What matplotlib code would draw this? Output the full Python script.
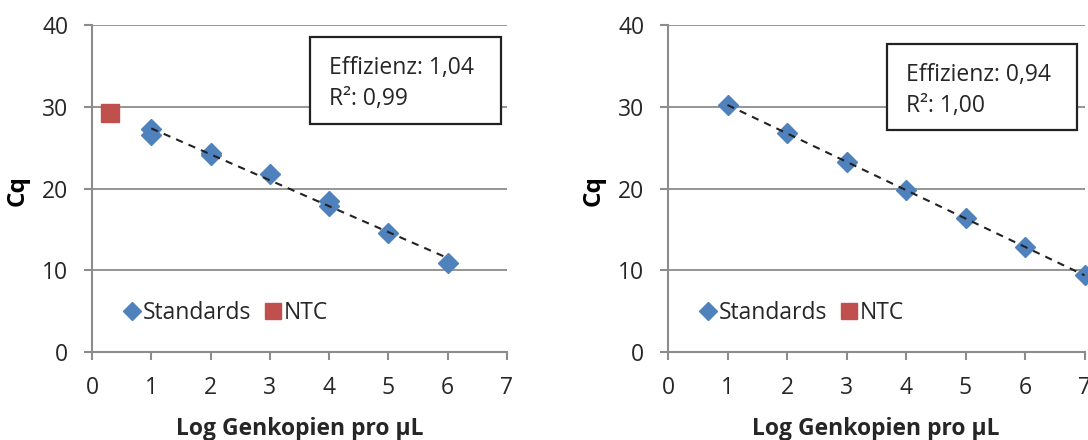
import matplotlib.pyplot as plt
import numpy as np

plt.rcParams['font.family'] = ['Open Sans', 'DejaVu Sans']

# left chart
x_left = [1, 1, 2, 2, 3, 4, 4, 5, 6]
cq_left = [27.3, 26.6, 24.4, 24.1, 21.8, 18.5, 17.8, 14.5, 10.9]
ntc_x_left = [0.3]
ntc_cq_left = [29.2]
eff_left = "1,04"
r2_left = "0,99"

# right chart
x_right = [1, 2, 3, 4, 5, 6, 7]
cq_right = [30.2, 26.8, 23.2, 19.8, 16.4, 12.8, 9.4]
ntc_x_right = []
ntc_cq_right = []
eff_right = "0,94"
r2_right = "1,00"

blue = '#4F81BD'
red = '#C0504D'
grey = '#8C8C8C'
txt = '#262626'
fs = 16.5

fig = plt.figure(figsize=(10.88, 4.4), dpi=100)
ax1 = fig.add_axes([92 / 1088, 88 / 440, 415 / 1088, 327 / 440])
ax2 = fig.add_axes([668 / 1088, 88 / 440, 416.5 / 1088, 327 / 440])


def draw(ax, xs, ys, nx, ny, eff, r2, box):
    ax.set_xlim(0, 7)
    ax.set_ylim(0, 40)
    ax.set_xticks(range(0, 8))
    ax.set_yticks(range(0, 41, 10))
    ax.grid(axis='y', color=grey, linewidth=1.3)
    ax.set_axisbelow(True)
    for s in ['top', 'right']:
        ax.spines[s].set_visible(False)
    for s in ['left', 'bottom']:
        ax.spines[s].set_color(grey)
        ax.spines[s].set_linewidth(1.5)
    ax.tick_params(colors=grey, labelcolor=txt, labelsize=fs, length=6, width=1.5)
    ax.tick_params(axis='y', pad=11)
    ax.tick_params(axis='x', pad=11)

    # trendline from the standards
    k, d = np.polyfit(xs, ys, 1)
    xt = np.array([min(xs), max(xs)])
    ax.plot(xt, k * xt + d, color='#222222', linestyle=(0, (3.5, 3)), linewidth=1.5,
            zorder=4, clip_on=False)

    ax.plot(xs, ys, 'D', color=blue, markersize=10, label='Standards', zorder=3,
            clip_on=False)
    ax.plot(nx, ny, 's', color=red, markersize=12.5, label='NTC', zorder=3, clip_on=False)

    ax.legend(loc='center left', bbox_to_anchor=(0.05, 0.12), ncol=2, frameon=False,
              fontsize=fs, handlelength=0.7, handletextpad=0.12, columnspacing=0.6,
              borderpad=0, labelcolor=txt, markerscale=0.9)

    ax.set_xlabel('Log Genkopien pro µL', fontsize=fs, fontweight='bold', color=txt)
    ax.xaxis.set_label_coords(0.5, -0.2)
    ax.set_ylabel('Cq', fontsize=fs + 1, fontweight='bold', color='black')
    ax.yaxis.set_label_coords(-0.15, 0.495)

    # text box with efficiency and R²
    bx0, by0, bx1, by1 = box
    fig.patches.append(plt.Rectangle((bx0 / 1088, 1 - by1 / 440), (bx1 - bx0) / 1088,
                                     (by1 - by0) / 440, transform=fig.transFigure,
                                     facecolor='white', edgecolor='#222222',
                                     linewidth=1.6, zorder=5))
    fig.text((bx0 + 19) / 1088, 1 - (by0 + 31) / 440, 'Effizienz: ' + eff,
             fontsize=fs, color=txt, va='center', zorder=6)
    fig.text((bx0 + 19) / 1088, 1 - (by0 + 62) / 440, 'R²: ' + r2,
             fontsize=fs, color=txt, va='center', zorder=6)


draw(ax1, x_left, cq_left, ntc_x_left, ntc_cq_left, eff_left, r2_left, (310, 37, 501, 124))
draw(ax2, x_right, cq_right, ntc_x_right, ntc_cq_right, eff_right, r2_right, (887, 44, 1077, 130))

fig.savefig('out.png', dpi=100)
